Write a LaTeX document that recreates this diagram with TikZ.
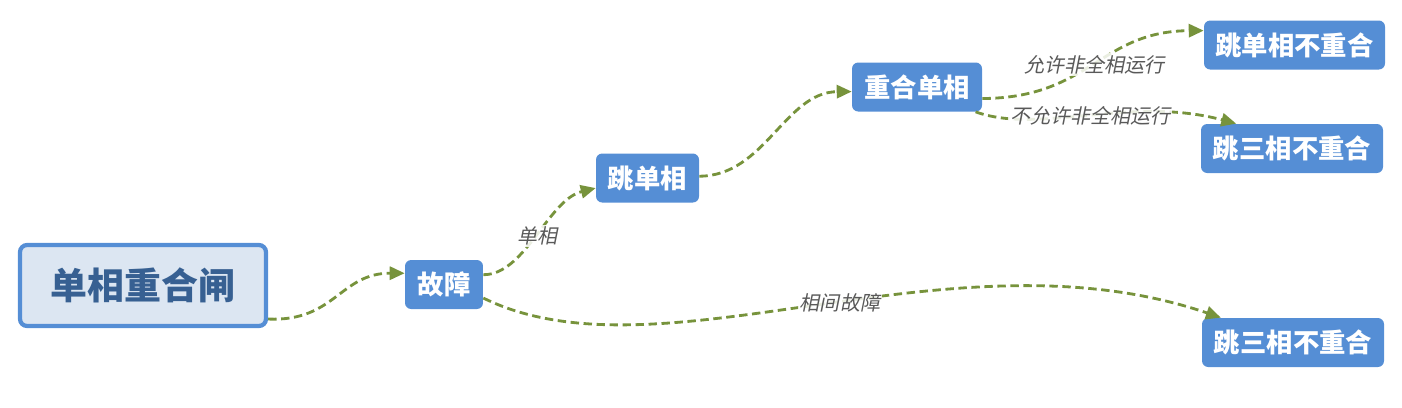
\documentclass[tikz,border=0pt]{standalone}
\usepackage{fontspec}
\setmainfont{Noto Sans CJK SC}
\newfontfamily\etiqfont[FakeSlant=0.2]{Noto Sans CJK SC}
\usetikzlibrary{arrows.meta, positioning}
\definecolor{azulcaja}{HTML}{558ED5}
\definecolor{azulclaro}{HTML}{DCE6F2}
\definecolor{azultexto}{HTML}{376092}
\definecolor{verdeflecha}{HTML}{77933C}
\definecolor{grisetiq}{HTML}{595959}
\tikzset{
  raiz/.style={draw=azulcaja, line width=2.4pt, fill=azulclaro, rounded corners=4pt,
    minimum width=4.92cm, minimum height=1.62cm, text=azultexto,
    font=\fontsize{21}{23}\selectfont\bfseries},
  caja/.style={fill=azulcaja, rounded corners=3.5pt, minimum height=0.98cm,
    inner xsep=0.2cm, text=white, font=\fontsize{15}{17}\selectfont\bfseries},
  flecha/.style={draw=verdeflecha, line width=1.6pt, dash pattern=on 4.8pt off 2.6pt,
    -{Triangle[length=8.5pt, width=7.5pt]}},
  etiq/.style={fill=white, fill opacity=0.85, text opacity=1, text=grisetiq,
    inner sep=1pt, font=\fontsize{11.4}{13}\selectfont\etiqfont}
}
\begin{document}
\begin{tikzpicture}[x=0.02cm, y=-0.02cm]
\useasboundingbox (0,0) rectangle (1402,407);
% cajas
\node[raiz] (raiz) at (143,285.5) {单相重合闸};
\node[caja, minimum width=1.56cm] (falla) at (444,284.5) {故障};
\node[caja, minimum width=2.06cm] (tdx) at (647.5,178) {跳单相};
\node[caja, minimum width=2.6cm] (chdx) at (917,87) {重合单相};
\node[caja, minimum width=3.62cm] (tdb) at (1294.5,45) {跳单相不重合};
\node[caja, minimum width=3.64cm] (tsm) at (1292,148.5) {跳三相不重合};
\node[caja, minimum width=3.64cm] (tsb) at (1293,342.5) {跳三相不重合};
% flechas
\draw[flecha] (raiz.-15) .. controls (335,322) and (340,273) .. (falla.164);
\draw[flecha] (falla.14) .. controls (525,275) and (548,200) .. node[etiq, pos=0.5] {单相} (tdx.-169);
\draw[flecha] (falla.-19) .. controls (660,385) and (950,225) .. node[etiq, pos=0.53] {相间故障} (tsb.161);
\draw[flecha] (tdx.2) .. controls (765,176) and (785,92) .. (chdx.184);
\draw[flecha] (chdx.-10) .. controls (1090,98) and (1100,31) .. node[etiq, pos=0.5] {允许非全相运行} (tdb.171);
\draw[flecha] (chdx.-23) .. controls (1040,135) and (1130,95) .. node[etiq, pos=0.5] {不允许非全相运行} (tsm.156);
\end{tikzpicture}
\end{document}
